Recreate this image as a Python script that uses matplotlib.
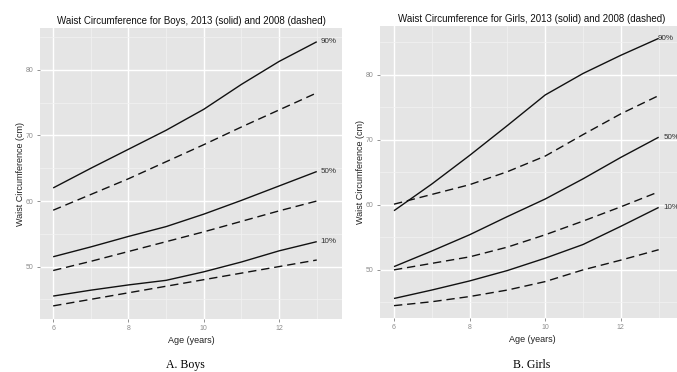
import matplotlib
matplotlib.use("Agg")
import matplotlib.pyplot as plt
from matplotlib.ticker import MultipleLocator

ages = [6, 7, 8, 9, 10, 11, 12, 13]

boys_2013_p90 = [62.0, 65.0, 67.9, 70.8, 74.0, 77.8, 81.3, 84.3]
boys_2013_p50 = [51.5, 53.0, 54.6, 56.1, 58.0, 60.1, 62.3, 64.5]
boys_2013_p10 = [45.5, 46.4, 47.2, 47.9, 49.2, 50.7, 52.4, 53.8]
boys_2008_p90 = [58.6, 61.0, 63.4, 66.0, 68.6, 71.3, 73.9, 76.5]
boys_2008_p50 = [49.4, 50.8, 52.3, 53.8, 55.3, 56.9, 58.5, 60.0]
boys_2008_p10 = [44.0, 45.0, 46.0, 47.0, 48.0, 49.0, 50.0, 51.0]

girls_2013_p90 = [59.1, 63.2, 67.6, 72.2, 76.9, 80.2, 83.0, 85.6]
girls_2013_p50 = [50.5, 52.9, 55.4, 58.2, 60.9, 64.0, 67.3, 70.4]
girls_2013_p10 = [45.6, 46.9, 48.3, 49.9, 51.8, 53.9, 56.7, 59.6]
girls_2008_p90 = [60.1, 61.6, 63.1, 65.1, 67.5, 70.8, 74.0, 76.8]
girls_2008_p50 = [50.0, 51.0, 52.0, 53.5, 55.4, 57.5, 59.7, 62.0]
girls_2008_p10 = [44.5, 45.1, 45.9, 46.9, 48.2, 50.0, 51.5, 53.1]

pct_labels = ["90%", "50%", "10%"]
boys_label_x = [13.1, 13.1, 13.1]
girls_label_x = [12.98, 13.13, 13.13]

x_ticks = [6, 8, 10, 12]
y_ticks = [50, 60, 70, 80]

titles = ["Waist Circumference for Boys, 2013 (solid) and 2008 (dashed)",
          "Waist Circumference for Girls, 2013 (solid) and 2008 (dashed)"]
captions = ["A. Boys", "B. Girls"]
xlabel = "Age (years)"
ylabel = "Waist Circumference (cm)"

W, H = 677, 372
fig = plt.figure(figsize=(W / 100, H / 100), dpi=100)
fig.patch.set_facecolor("white")
plt.rcParams['font.family'] = ['Liberation Sans', 'DejaVu Sans']


def px_axes(l, r, t, b):
    return fig.add_axes([l / W, (H - b) / H, (r - l) / W, (b - t) / H])


def style(ax, xlim, ylim):
    ax.set_facecolor("#E5E5E5")
    ax.set_xlim(*xlim)
    ax.set_ylim(*ylim)
    ax.xaxis.set_minor_locator(MultipleLocator(1))
    ax.yaxis.set_minor_locator(MultipleLocator(5))
    ax.set_xticks(x_ticks)
    ax.set_yticks(y_ticks)
    ax.grid(which="major", color="white", lw=1.0)
    ax.grid(which="minor", color="#F2F2F2", lw=0.5)
    ax.set_axisbelow(True)
    for s in ax.spines.values():
        s.set_visible(False)
    ax.tick_params(which="major", length=2.5, width=0.6, color="#7F7F7F",
                   labelsize=5, labelcolor="#8C8C8C", pad=2)
    ax.tick_params(which="minor", length=0)
    ax.set_xlabel(xlabel, fontsize=6.5, labelpad=3, color="#222222")
    ax.set_ylabel(ylabel, fontsize=6.5, labelpad=1, color="#222222")


def draw(ax, solids, dashes, lab_x):
    for ys in solids:
        ax.plot(ages, ys, color="#111111", lw=1.0, solid_capstyle="butt",
                solid_joinstyle="round")
    for ys in dashes:
        ax.plot(ages, ys, color="#111111", lw=1.0, linestyle=(0, (6, 3.5)),
                dash_capstyle="butt")
    for ys, lab, lx in zip(solids, pct_labels, lab_x):
        ax.text(lx, ys[-1], lab, fontsize=5.8, color="#333333",
                ha="left", va="center")


ax1 = px_axes(40, 342, 28, 319)
style(ax1, (5.65, 13.67), (42.0, 86.4))
draw(ax1, [boys_2013_p90, boys_2013_p50, boys_2013_p10],
     [boys_2008_p90, boys_2008_p50, boys_2008_p10], boys_label_x)
ax1.set_title(titles[0], fontsize=7.0, pad=3, color="#111111")

ax2 = px_axes(380, 684, 26, 318)
style(ax2, (5.63, 13.67), (42.6, 87.5))
draw(ax2, [girls_2013_p90, girls_2013_p50, girls_2013_p10],
     [girls_2008_p90, girls_2008_p50, girls_2008_p10], girls_label_x)
ax2.set_title(titles[1], fontsize=7.0, pad=3, color="#111111")

fig.text(185 / W, 1 - 365 / H, captions[0], fontsize=8.5, ha="center",
         va="center", family=["Liberation Serif", "DejaVu Serif"])
fig.text(532 / W, 1 - 365 / H, captions[1], fontsize=8.5, ha="center",
         va="center", family=["Liberation Serif", "DejaVu Serif"])

fig.savefig("out.png", dpi=100)
